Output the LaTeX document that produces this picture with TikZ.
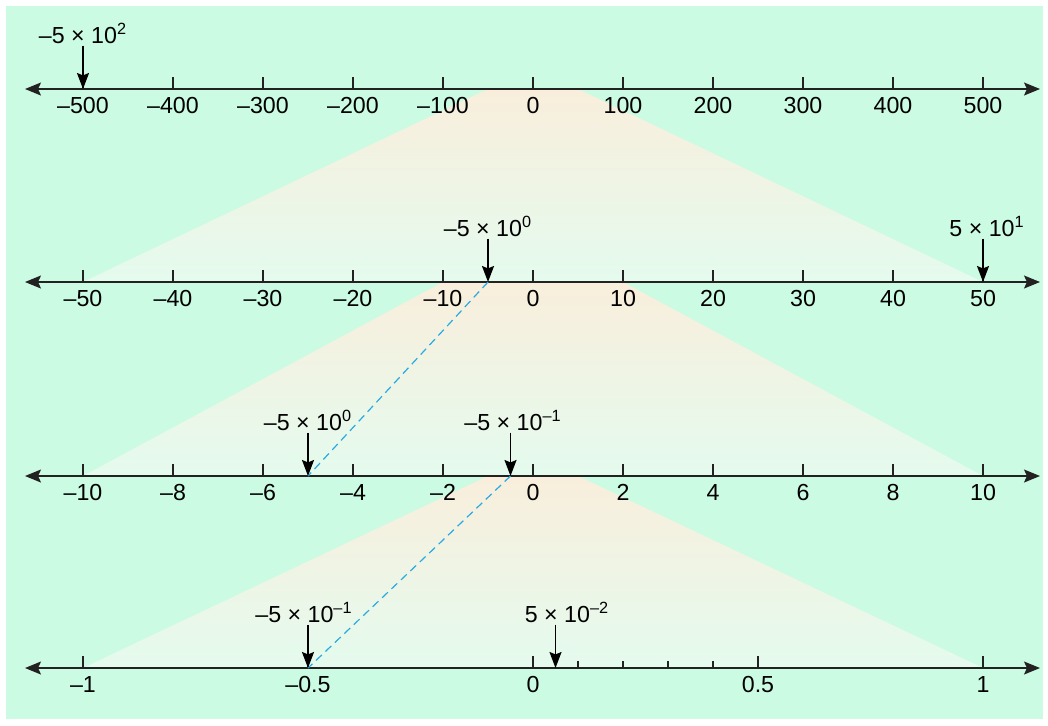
\documentclass[tikz,border=0pt]{standalone}
\usepackage{fontspec}
\setmainfont{Liberation Sans}
\usetikzlibrary{arrows.meta, positioning, calc}
\definecolor{MintBg}{HTML}{CCFBE3}
\definecolor{CreamTop}{HTML}{F9EEDC}
\definecolor{MintPale}{HTML}{E4FBEE}
\definecolor{AxisGray}{HTML}{222222}
\definecolor{DashCyan}{HTML}{29ABE2}

\begin{document}
\begin{tikzpicture}[x=0.5pt, y=-0.5pt,
    every node/.style={font=\fontsize{11.6}{13}\selectfont, inner sep=1pt},
    axis/.style={draw=AxisGray, line width=0.75pt, {Stealth[length=8pt,width=6.5pt,inset=1.5pt]}-{Stealth[length=8pt,width=6.5pt,inset=1.5pt]}},
    tick/.style={draw=AxisGray, line width=0.65pt},
    marker/.style={draw=black, line width=0.8pt, -{Stealth[length=8pt,width=6pt,inset=1.2pt]}},
    zoomed/.style={draw=DashCyan, line width=0.6pt, dash pattern=on 4pt off 2.5pt},
    wedge/.style={top color=CreamTop, bottom color=MintPale}]
    \useasboundingbox (0,0) rectangle (1048,725);
    \fill[MintBg] (6,6) rectangle (1043,719);

    % zoom wedges
    \shade[wedge] (488,89) -- (578,89) -- (983,282) -- (83,282) -- cycle;
    \shade[wedge] (443,282) -- (623,282) -- (983,476) -- (83,476) -- cycle;
    \shade[wedge] (488,476) -- (578,476) -- (983,668) -- (83,668) -- cycle;

    % number lines
    \foreach \n/\y in {1/89, 2/282, 3/476, 4/668} {
        \coordinate (L\n) at (25,\y);
        \coordinate (R\n) at (1040,\y);
        \draw[axis] (L\n) -- (R\n);
    }
    \foreach \n/\y/\s in {1/89/100, 2/282/10, 3/476/2} {
        \foreach \i in {-5,...,5} {
            \draw[tick] (533+90*\i,\y) -- ++(0,-12);
            \pgfmathtruncatemacro\v{abs(\i*\s)}
            \node[anchor=base] (t\n\i) at (533+90*\i,\y+24) {\ifnum\i<0 –\fi\v};
        }
    }
    \foreach \x/\t in {83/–1, 308/–0.5, 533/0, 758/0.5, 983/1} {
        \draw[tick] (\x,668) -- ++(0,-12);
        \node[anchor=base] (t4\x) at (\x,692) {\t};
    }
    \foreach \x in {578,623,668,713}
        \draw[tick] (\x,668) -- ++(0,-7);

    % marked values
    \coordinate (p1) at (83,89);
    \coordinate (p2a) at (488,282);
    \coordinate (p2b) at (983,282);
    \coordinate (p3a) at (308,476);
    \coordinate (p3b) at (510.5,476);
    \coordinate (p4a) at (308,668);
    \coordinate (p4b) at (555.5,668);

    \draw[zoomed] (p2a) -- (p3a);
    \draw[zoomed] (p3b) -- (p4a);

    \node[anchor=base] (m1) at (83,43) {–5 × 10\textsuperscript{2}};
    \node[anchor=base] (m2a) at (488,236) {–5 × 10\textsuperscript{0}};
    \node[anchor=base] (m2b) at (987,236) {5 × 10\textsuperscript{1}};
    \node[anchor=base] (m3a) at (308,430) {–5 × 10\textsuperscript{0}};
    \node[anchor=base] (m3b) at (513,430) {–5 × 10\textsuperscript{–1}};
    \node[anchor=base] (m4a) at (304,622) {–5 × 10\textsuperscript{–1}};
    \node[anchor=base] (m4b) at (567,622) {5 × 10\textsuperscript{–2}};

    \foreach \m/\p in {m1/p1, m2a/p2a, m2b/p2b, m3a/p3a, m3b/p3b, m4a/p4a, m4b/p4b}
        \draw[marker] (\p |- \m.south) -- (\p);
\end{tikzpicture}
\end{document}
